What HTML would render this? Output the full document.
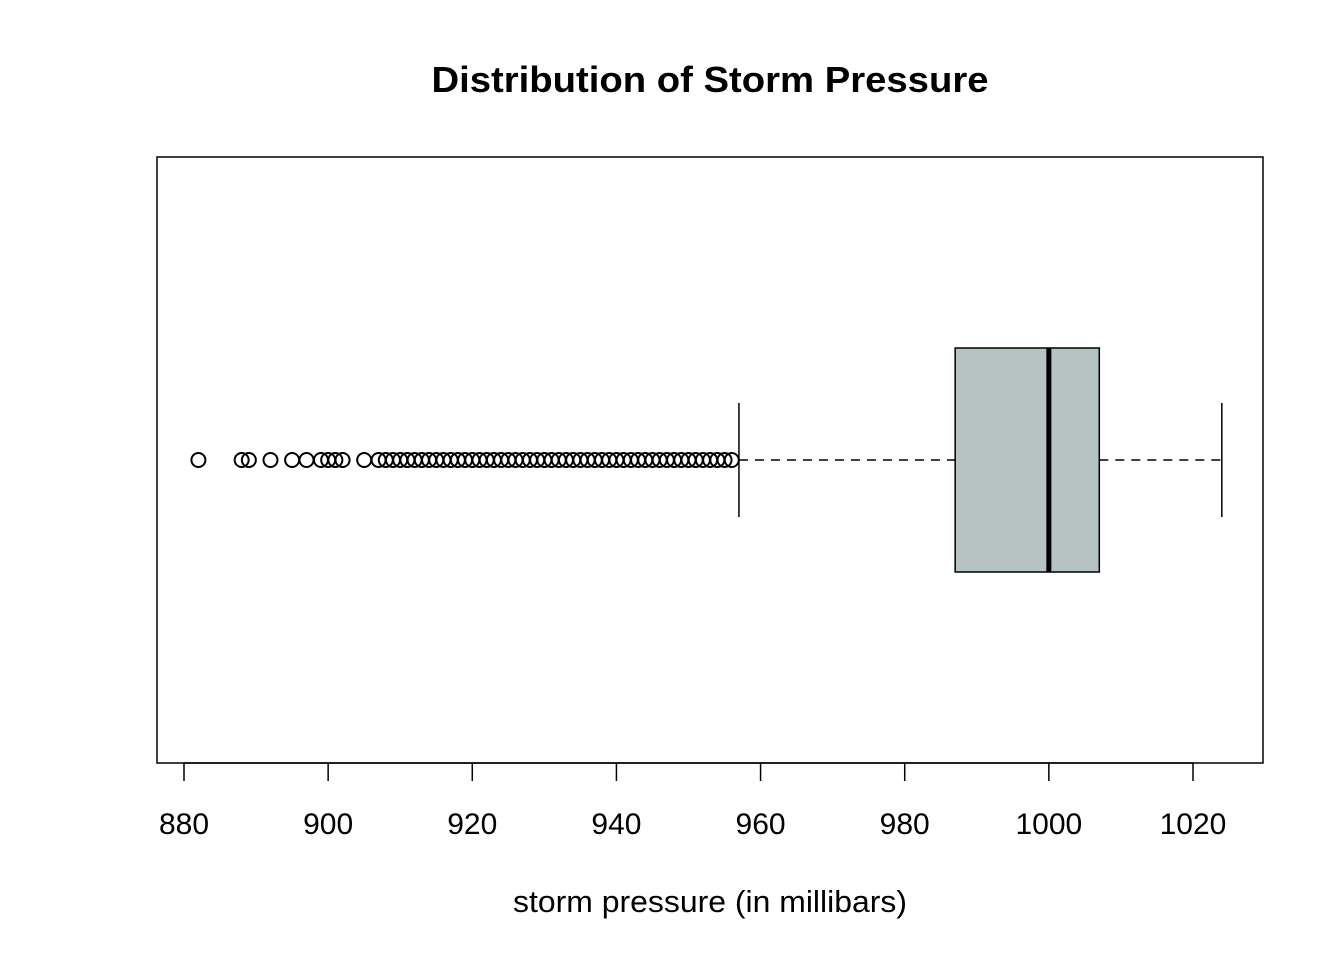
<!DOCTYPE html>
<html><head><meta charset="utf-8"><style>body{margin:0;background:#fff}svg{display:block;font-family:"Liberation Sans",Arial,sans-serif}</style></head>
<body>
<svg id="c" width="1344" height="960">
<text x="710" y="92" text-anchor="middle" font-size="36" font-weight="bold" textLength="557" lengthAdjust="spacingAndGlyphs">Distribution of Storm Pressure</text>
<rect x="157" y="157" width="1106" height="606" fill="none" stroke="#000" stroke-width="1.5"/>
<text x="710" y="912" text-anchor="middle" font-size="31" textLength="394" lengthAdjust="spacingAndGlyphs">storm pressure (in millibars)</text>
<g id="g"></g>
</svg>
<script>
const ticks=[880,900,920,940,960,980,1000,1020];
const stats=[957,987,1000,1007,1024]; // whisker low, q1, median, q3, whisker high
const outliers=[882,888,889,892,895,897,899,900,901,902,905,907,908,909,910,911,912,913,914,915,916,917,918,919,920,921,922,923,924,925,926,927,928,929,930,931,932,933,934,935,936,937,938,939,940,941,942,943,944,945,946,947,948,949,950,951,952,953,954,955,956];
const NS='http://www.w3.org/2000/svg',g=document.getElementById('g');
const x=v=>184+(v-880)*(1193-184)/140;
const cy=460;
function el(t,a){const e=document.createElementNS(NS,t);for(const k in a)e.setAttribute(k,a[k]);g.appendChild(e);return e;}
const ax=el('line',{x1:x(880),x2:x(1020),y1:763,y2:763,stroke:'#000','stroke-width':1.5});


ticks.forEach(t=>{
 const l=el('line',{x1:x(t),x2:x(t),y1:763,y2:781,stroke:'#000','stroke-width':1.5});
 
 
 const tx=el('text',{x:x(t),y:834,'text-anchor':'middle','font-size':30});
 tx.textContent=t;
 
 
});
const [wl,q1,md,q3,wh]=stats;
[[wl,q1],[q3,wh]].forEach(([a,b])=>{
 const l=el('line',{x1:x(a),x2:x(b),y1:cy,y2:cy,stroke:'#000','stroke-width':1.5,'stroke-dasharray':'9,7'});
 
 
});
[wl,wh].forEach(v=>{
 const l=el('line',{x1:x(v),x2:x(v),y1:403,y2:517,stroke:'#000','stroke-width':1.5});
 
 
});
const b=el('rect',{x:x(q1),y:348,width:x(q3)-x(q1),height:224,fill:'#b5c3c2',stroke:'#000','stroke-width':1.5});


const m=el('line',{x1:x(md),x2:x(md),y1:348,y2:572,stroke:'#000','stroke-width':5});


outliers.forEach(v=>{
 const c=el('circle',{cx:x(v),cy:cy,r:7,fill:'none',stroke:'#000','stroke-width':2});
 
 
});
</script>
</body></html>
